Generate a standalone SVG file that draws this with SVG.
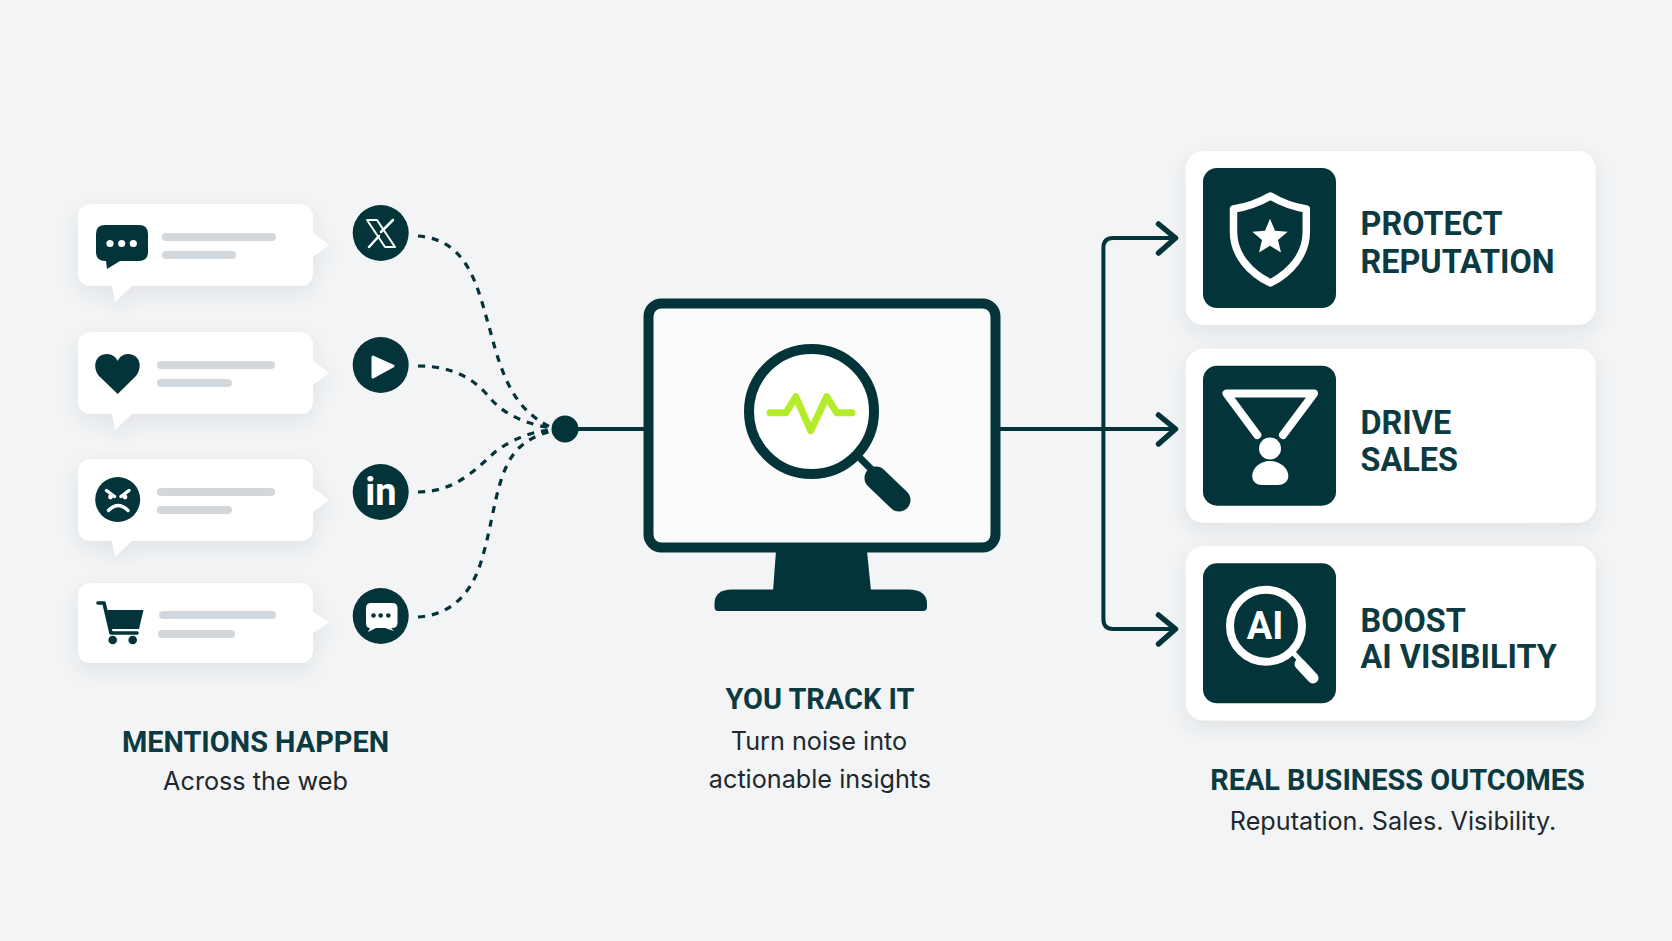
<svg xmlns="http://www.w3.org/2000/svg" width="1672" height="941" viewBox="0 0 1672 941">
<style>
.head{font-family:"Roboto","Liberation Sans",sans-serif;font-weight:700;fill:#0c3a41}
.t1{font-size:32.4px}
.t2{font-size:28.9px;text-anchor:middle}
.sub{font-family:"Inter","Liberation Sans",sans-serif;font-weight:400;fill:#20282c;font-size:25.2px;text-anchor:middle}
.card{fill:#fff;filter:url(#sh)}
.bar{fill:#d2d7db}
.dk{fill:#03343a}
.wh{fill:#fff}
.dash{fill:none;stroke:#03343a;stroke-width:3.2;stroke-dasharray:7 7}
.line{fill:none;stroke:#03343a;stroke-width:4;stroke-linejoin:round}
.tip{fill:none;stroke:#03343a;stroke-width:5.5;stroke-linecap:round;stroke-linejoin:round}
.ws{fill:none;stroke:#fff;stroke-linecap:round;stroke-linejoin:round}
</style>
<defs>
<filter id="sh" x="-20%" y="-30%" width="140%" height="170%"><feDropShadow dx="0" dy="7" stdDeviation="9" flood-color="#38444c" flood-opacity="0.1"/></filter>
<path id="bub" d="M92 0H299Q313 0 313 14V29L329 41L313 53V68Q313 82 299 82H132L115 98L112 82H92Q78 82 78 68V14Q78 0 92 0Z"/>
</defs>
<rect width="1672" height="941" fill="#f3f4f6"/>

<g id="connectors">
<path class="dash" d="M418 236C470 240 478 290 490 330C503 380 515 410 552 428"/>
<path class="dash" d="M418 366C455 366 475 380 490 398C505 416 530 425 552 428"/>
<path class="dash" d="M418 492C455 492 475 470 495 452C515 437 535 431 552 430"/>
<path class="dash" d="M418 617C450 615 470 595 480 565C495 520 495 470 520 447C530 438 540 434 552 431"/>
<circle class="dk" cx="565" cy="429" r="13.5"/>
<path class="line" d="M565 429H645"/>
<path class="line" d="M1000 429H1173"/>
<path class="line" d="M1173 238H1113Q1103.4 238 1103.4 248V619Q1103.4 629 1113 629H1173"/>
<path class="tip" d="M1158.5 224L1175.5 238L1158.5 253"/>
<path class="tip" d="M1158.5 415L1175.5 429L1158.5 444"/>
<path class="tip" d="M1158.5 615L1175.5 629L1158.5 644"/>
</g>

<g id="bubble-chat">
<use href="#bub" class="card" y="204"/>
<path class="dk" d="M105 225H139Q148 225 148 234V252Q148 261 139 261H120L107 269L106 261H105Q96 261 96 252V234Q96 225 105 225Z"/>
<circle class="wh" cx="110" cy="243.5" r="3.6"/><circle class="wh" cx="121.7" cy="243.5" r="3.6"/><circle class="wh" cx="133.3" cy="243.5" r="3.6"/>
<rect class="bar" x="162" y="233" width="114" height="8" rx="4"/><rect class="bar" x="162" y="251" width="74" height="8" rx="4"/>
</g>
<g id="bubble-heart">
<use href="#bub" class="card" y="332"/>
<path class="dk" d="M117.7 394L100 377C92 369 94 354 107 354C112 354 116 357 117.7 361C119.5 357 123 354 128 354C141 354 143 369 135 377Z"/>
<rect class="bar" x="157" y="361" width="118" height="8" rx="4"/><rect class="bar" x="157" y="379" width="75" height="8" rx="4"/>
</g>
<g id="bubble-angry">
<use href="#bub" class="card" y="459"/>
<circle class="dk" cx="117.7" cy="499.5" r="22.5"/>
<path class="ws" stroke-width="3.4" d="M106.5 490.5L114.5 496.5M129 490.5L121 496.5M108.5 510.5Q118 500.5 128 510.5"/>
<circle class="wh" cx="110.5" cy="497" r="2.4"/><circle class="wh" cx="125" cy="497" r="2.4"/>
<rect class="bar" x="157" y="488" width="118" height="8" rx="4"/><rect class="bar" x="157" y="506" width="75" height="8" rx="4"/>
</g>
<g id="bubble-cart">
<path class="card" d="M92 583H299Q313 583 313 597V612L329 622L313 633V649Q313 663 299 663H92Q78 663 78 649V597Q78 583 92 583Z"/>
<path class="dk" d="M107 610H143.5L139 629H111Z"/>
<path fill="none" stroke="#03343a" stroke-width="3.6" stroke-linecap="round" stroke-linejoin="round" d="M98 603H104L111 633H137"/>
<circle class="dk" cx="112.7" cy="640" r="4.3"/><circle class="dk" cx="132.7" cy="640" r="4.3"/>
<rect class="bar" x="159" y="611" width="117" height="8" rx="4"/><rect class="bar" x="158" y="630" width="77" height="8" rx="4"/>
</g>

<g id="source-x">
<circle class="dk" cx="380.7" cy="233" r="28"/>
<path class="ws" stroke-width="2" stroke-linejoin="miter" d="M367 220H377L395 247H385Z"/>
<path class="ws" stroke-width="2.5" d="M393 220L381 232M369 247L379 236"/>
</g>
<g id="source-play">
<circle class="dk" cx="380.7" cy="365" r="28"/>
<path class="wh" stroke="#fff" stroke-width="3" stroke-linejoin="round" d="M373 357L393 366L373 377Z"/>
</g>
<g id="source-linkedin">
<circle class="dk" cx="380.7" cy="492" r="28"/>
<text x="381" y="505" text-anchor="middle" font-family="Roboto,'Liberation Sans',sans-serif" font-weight="700" font-size="38" fill="#fff">in</text>
</g>
<g id="source-chat">
<circle class="dk" cx="380.7" cy="616" r="28"/>
<path class="wh" d="M371 603H392Q397.5 603 397.5 608V623Q397.5 628 392 628H391L394 631L385 628H376L368 632L370 628Q366 628 366 623V608Q366 603 371 603Z"/>
<circle class="dk" cx="373.5" cy="615.5" r="2.3"/><circle class="dk" cx="380.7" cy="615.5" r="2.3"/><circle class="dk" cx="388.3" cy="615.5" r="2.3"/>
</g>

<g id="monitor">
<rect x="648.5" y="303.5" width="347" height="244" rx="13" fill="#fbfbfc" stroke="#03343a" stroke-width="10"/>
<path class="dk" d="M776 551H867L871 591H773Z"/>
<path class="dk" d="M732 589.5H908Q927 589.5 927 604V607Q927 611 923 611H718Q714.5 611 714.5 607V604Q714.5 589.5 732 589.5Z"/>
<circle cx="811.5" cy="411.5" r="62.5" fill="#fff" stroke="#03343a" stroke-width="10"/>
<path fill="none" stroke="#03343a" stroke-width="7" d="M857 455L877 475"/>
<path fill="none" stroke="#03343a" stroke-width="23" stroke-linecap="round" d="M876 478L899 500"/>
<path fill="none" stroke="#b4ec2a" stroke-width="7" stroke-linecap="round" stroke-linejoin="round" d="M770 412.7H786L795.7 396.7L810.7 430.7L826.7 396.7L836.7 412.7H852"/>
</g>

<g id="outcome-protect">
<rect class="card" x="1185.7" y="151" width="410" height="174" rx="18"/>
<rect class="dk" x="1203" y="168" width="133" height="140" rx="14"/>
<path class="ws" stroke-width="7.5" d="M1270.4 196Q1253 206 1233.5 209V232C1233.5 255 1250 273 1270.4 283C1290 273 1306.3 255 1306.3 232V209Q1287 206 1270.4 196Z"/>
<path class="wh" d="M1270 218.7L1275 230.7L1287.7 231.7L1278 240L1281 252.5L1270 245.8L1259 252.5L1262 240L1252.3 231.7L1265 230.7Z"/>
<text class="head t1" x="1360.5" y="234.5">PROTECT</text>
<text class="head t1" x="1360.5" y="273">REPUTATION</text>
</g>
<g id="outcome-sales">
<rect class="card" x="1185.7" y="348.7" width="410" height="174" rx="18"/>
<rect class="dk" x="1203" y="365.7" width="133" height="140" rx="14"/>
<path class="ws" stroke-width="8" stroke-linecap="butt" stroke-linejoin="round" d="M1257.3 435L1226.5 393.5H1314L1283 435"/>
<circle class="wh" cx="1270" cy="448.5" r="11"/>
<path class="wh" d="M1270 461C1280 461 1288.3 468 1288.3 476C1288.3 482 1283 485 1278 485H1262C1257 485 1252.2 482 1252.2 476C1252.2 468 1260 461 1270 461Z"/>
<text class="head t1" x="1360.5" y="434">DRIVE</text>
<text class="head t1" x="1360.5" y="470.5">SALES</text>
</g>
<g id="outcome-ai">
<rect class="card" x="1185.7" y="546" width="410" height="174.5" rx="18"/>
<rect class="dk" x="1203" y="563.3" width="133" height="140" rx="14"/>
<circle cx="1266" cy="625.7" r="36" fill="none" stroke="#fff" stroke-width="8"/>
<path class="ws" stroke-width="5" stroke-linecap="butt" d="M1292 651.5L1300 660"/>
<path class="ws" stroke-width="11" d="M1300 664L1313 678"/>
<text x="1265" y="639" text-anchor="middle" font-family="Roboto,'Liberation Sans',sans-serif" font-weight="700" font-size="38" fill="#fff">AI</text>
<text class="head t1" x="1360.5" y="631.5">BOOST</text>
<text class="head t1" x="1360.5" y="668">AI VISIBILITY</text>
</g>

<g id="captions">
<text class="head t2" x="255.5" y="751.5">MENTIONS HAPPEN</text>
<text class="sub" x="255.5" y="790">Across the web</text>
<text class="head t2" x="820" y="709">YOU TRACK IT</text>
<text class="sub" x="819" y="750">Turn noise into</text>
<text class="sub" x="820" y="788">actionable insights</text>
<text class="head t2" x="1397.5" y="790">REAL BUSINESS OUTCOMES</text>
<text class="sub" x="1393" y="830">Reputation. Sales. Visibility.</text>
</g>
</svg>
